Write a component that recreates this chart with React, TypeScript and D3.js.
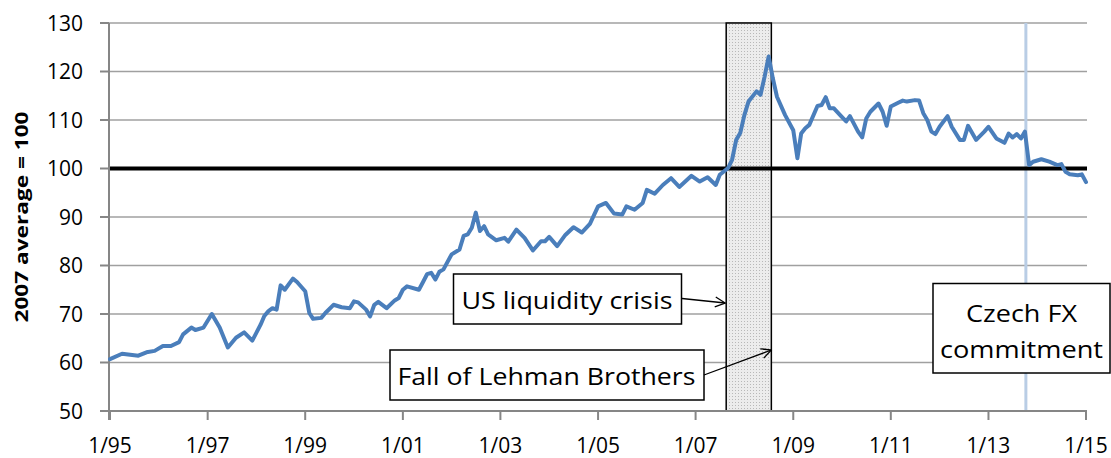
import React from "react";
import * as d3 from "d3";

// ---- data ----
const dates: string[] = [
  "1995-01","1995-04","1995-06","1995-08","1995-10","1995-12","1996-02","1996-04","1996-06","1996-07",
  "1996-09","1996-10","1996-12","1997-02","1997-04","1997-06","1997-08","1997-10","1997-12","1998-02",
  "1998-03","1998-04","1998-05","1998-06","1998-07","1998-08","1998-10","1998-11","1999-01","1999-02",
  "1999-03","1999-05","1999-06","1999-08","1999-10","1999-12","2000-01","2000-02","2000-04","2000-05",
  "2000-06","2000-07","2000-09","2000-11","2000-12","2001-01","2001-02","2001-05","2001-06","2001-07",
  "2001-08","2001-09","2001-10","2001-11","2002-01","2002-03","2002-04","2002-05","2002-06","2002-07",
  "2002-08","2002-09","2002-10","2002-12","2003-02","2003-03","2003-05","2003-07","2003-09","2003-11",
  "2003-12","2004-01","2004-03","2004-05","2004-07","2004-09","2004-11","2005-01","2005-03","2005-05",
  "2005-07","2005-08","2005-10","2005-12","2006-01","2006-03","2006-05","2006-07","2006-09","2006-12",
  "2007-02","2007-04","2007-06","2007-07","2007-09","2007-10","2007-11","2007-12","2008-01","2008-02",
  "2008-04","2008-05","2008-06","2008-07","2008-08","2008-09","2008-11","2009-01","2009-02","2009-03",
  "2009-04","2009-05","2009-07","2009-08","2009-09","2009-10","2009-11","2010-01","2010-02","2010-03",
  "2010-05","2010-06","2010-07","2010-08","2010-10","2010-11","2010-12","2011-01","2011-03","2011-04",
  "2011-05","2011-07","2011-08","2011-09","2011-10","2011-11","2011-12","2012-01","2012-03","2012-04",
  "2012-06","2012-07","2012-08","2012-10","2012-12","2013-01","2013-03","2013-05","2013-06","2013-07",
  "2013-08","2013-09","2013-10","2013-11","2013-12","2014-02","2014-04","2014-06","2014-07","2014-08",
  "2014-09","2014-11","2014-12","2015-01",
];
const values: number[] = [
  60.7,61.8,61.6,61.4,62.1,62.4,63.4,63.4,64.2,65.8,
  67.2,66.7,67.2,70.0,67.2,63.1,65.1,66.2,64.5,67.8,
  69.6,70.6,71.2,70.9,75.9,75.0,77.3,76.6,74.7,70.2,
  69.0,69.2,70.2,71.9,71.4,71.2,72.6,72.4,70.9,69.5,
  71.9,72.5,71.2,72.8,73.3,75.0,75.7,75.0,76.6,78.2,
  78.5,77.1,78.7,79.2,82.3,83.3,86.1,86.4,87.8,90.9,
  87.1,88.1,86.4,85.2,85.7,84.9,87.4,85.7,83.1,85.0,
  85.0,85.9,84.0,86.3,87.9,86.8,88.6,92.2,92.9,90.7,
  90.5,92.2,91.5,92.9,95.6,94.8,96.6,98.0,96.2,98.5,
  97.3,98.2,96.6,98.7,100.1,101.8,105.9,107.3,111.0,113.8,
  115.9,115.2,119.0,123.1,118.6,114.8,111.0,107.9,102.1,107.2,
  108.3,109.0,112.9,113.1,114.7,112.4,112.4,110.6,109.7,110.8,
  107.6,106.4,110.3,111.7,113.4,111.7,108.8,112.8,113.6,114.0,
  113.8,114.1,114.0,111.4,110.0,107.6,107.1,108.6,110.8,108.6,
  105.9,105.9,108.8,105.9,107.6,108.6,106.2,105.3,107.2,106.4,
  107.1,106.2,107.6,100.7,101.4,101.9,101.4,100.7,100.9,99.3,
  98.8,98.6,98.8,97.2,
];
const yTicks: number[] = [50, 60, 70, 80, 90, 100, 110, 120, 130];
const xTickDates: string[] = [
  "1995-01","1997-01","1999-01","2001-01","2003-01","2005-01",
  "2007-01","2009-01","2011-01","2013-01","2015-01",
];
const xStart = "1995-01";
const xEnd = "2015-01";
const crisisStart = "2007-08-18";
const crisisEnd = "2008-07-21";
const fxDate = "2013-10-08";
const baseline = 100;
const yLabel = "2007 average = 100";
const labelLiquidity = "US liquidity crisis";
const labelLehman = "Fall of Lehman Brothers";
const labelFx1 = "Czech FX";
const labelFx2 = "commitment";

const W = 1111;
const H = 458;
const FONT = "'Open Sans', 'DejaVu Sans', sans-serif";

export default function App() {
  const pm = d3.utcParse("%Y-%m");
  const pd = d3.utcParse("%Y-%m-%d");
  const data = dates.map((d, i) => ({ date: pm(d) as Date, value: values[i] }));

  const x = d3.scaleUtc().domain([pm(xStart) as Date, pm(xEnd) as Date]).range([110, 1086]);
  const y = d3.scaleLinear().domain([50, 130]).range([411, 23]);
  const plotLeft = 109;
  const plotRight = 1087;

  const line = d3
    .line<{ date: Date; value: number }>()
    .x((d) => x(d.date))
    .y((d) => y(d.value));

  const xTicks = xTickDates.map((d) => pm(d) as Date);
  const fmt = d3.utcFormat("%-m/%y");

  const bx0 = x(pd(crisisStart) as Date);
  const bx1 = x(pd(crisisEnd) as Date);
  const fxX = x(pd(fxDate) as Date);

  return (
    <svg width={W} height={H} style={{ position: "absolute", left: 0, top: 0, background: "#fff" }} fontFamily={FONT}>
      <defs>
        <pattern id="dots" width="3" height="3" patternUnits="userSpaceOnUse">
          <rect width="3" height="3" fill="#ececec" />
          <rect width="1" height="1" fill="#b8b8b8" />
        </pattern>
        <marker id="arr" viewBox="0 0 12 12" refX="11" refY="6" markerWidth="12" markerHeight="12" orient="auto" markerUnits="userSpaceOnUse">
          <path d="M1,1 L11,6 L1,11" fill="none" stroke="#000" strokeWidth="1.3" />
        </marker>
      </defs>
      <rect x={0} y={0} width={W} height={H} fill="#fff" />

      {/* gridlines */}
      {yTicks.map((t) => (
        <line key={"g" + t} x1={plotLeft} x2={plotRight} y1={y(t)} y2={y(t)} stroke="#a0a0a0" strokeWidth={1.5} />
      ))}

      {/* crisis band */}
      <rect x={bx0} y={y(130)} width={bx1 - bx0} height={y(50) - y(130)} fill="url(#dots)" stroke="#000" strokeWidth={1.5} />

      {/* FX line */}
      <line x1={fxX} x2={fxX} y1={y(130)} y2={y(50)} stroke="#b9cde5" strokeWidth={3} />

      {/* baseline 100 */}
      <line x1={plotLeft} x2={plotRight} y1={y(baseline)} y2={y(baseline)} stroke="#000" strokeWidth={4} />

      {/* axes */}
      <line x1={plotLeft} x2={plotLeft} y1={y(130)} y2={y(50) + 9} stroke="#868686" strokeWidth={2} />
      <line x1={plotLeft} x2={plotRight} y1={y(50)} y2={y(50)} stroke="#868686" strokeWidth={2} />
      {yTicks.map((t) => (
        <g key={"yt" + t}>
          <line x1={plotLeft - 9} x2={plotLeft} y1={y(t)} y2={y(t)} stroke="#868686" strokeWidth={2} />
          <text x={83} y={y(t)} dy="0.36em" textAnchor="end" fontSize={21} fill="#000">{t}</text>
        </g>
      ))}
      {xTicks.map((d, i) => (
        <g key={"xt" + i}>
          <line x1={x(d)} x2={x(d)} y1={y(50)} y2={y(50) + 9} stroke="#868686" strokeWidth={2} />
          <text x={x(d)} y={453} textAnchor="middle" fontSize={21} fill="#000">{fmt(d)}</text>
        </g>
      ))}

      {/* y label */}
      <text transform={`translate(28,${(y(130) + y(50)) / 2}) rotate(-90)`} textAnchor="middle" fontSize={17} fontWeight="bold" textLength={211} lengthAdjust="spacingAndGlyphs">{yLabel}</text>

      {/* series */}
      <path d={line(data) || ""} fill="none" stroke="#4a7ebb" strokeWidth={4} strokeLinejoin="round" strokeLinecap="round" />

      {/* annotations */}
      <rect x={453.5} y={274} width={228} height={50} fill="#fff" stroke="#000" strokeWidth={1.5} />
      <text x={461.5} y={309} fontSize={24} textLength={211} lengthAdjust="spacingAndGlyphs">{labelLiquidity}</text>
      <line x1={682} y1={298.5} x2={bx0 - 1} y2={303} stroke="#000" strokeWidth={1.3} markerEnd="url(#arr)" />

      <rect x={390} y={350} width={314} height={50} fill="#fff" stroke="#000" strokeWidth={1.5} />
      <text x={397.5} y={385} fontSize={24} textLength={298} lengthAdjust="spacingAndGlyphs">{labelLehman}</text>
      <line x1={704} y1={375} x2={bx1} y2={350} stroke="#000" strokeWidth={1.3} markerEnd="url(#arr)" />

      <rect x={933} y={283.5} width={177} height={89.5} fill="#fff" stroke="#000" strokeWidth={1.5} />
      <text x={1021.5} y={322} fontSize={24} textAnchor="middle" textLength={111} lengthAdjust="spacingAndGlyphs">{labelFx1}</text>
      <text x={1021.5} y={358} fontSize={24} textAnchor="middle" textLength={163} lengthAdjust="spacingAndGlyphs">{labelFx2}</text>
    </svg>
  );
}
